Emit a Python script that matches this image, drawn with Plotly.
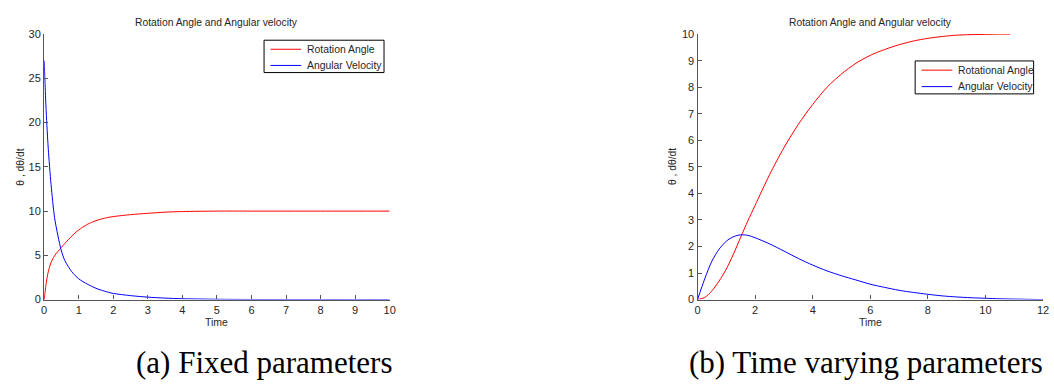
import plotly.graph_objects as go

# ---- (a) fixed parameters ----
t_fixed_angle = [0, 0.05, 0.1, 0.15, 0.2, 0.3, 0.4, 0.5, 0.6, 0.7, 0.8, 0.9, 1.0, 1.25, 1.5,
                 1.75, 2.0, 2.5, 3.0, 3.5, 4.0, 5.0, 6.0, 8.0, 10.0]
fixed_angle = [0, 1.6, 2.8, 3.6, 4.2, 4.95, 5.45, 5.9, 6.35, 6.78, 7.18, 7.55, 7.87, 8.5, 8.92,
               9.2, 9.38, 9.6, 9.75, 9.88, 9.95, 10.0, 10.0, 10.0, 10.0]

t_fixed_vel = [0, 0.02, 0.05, 0.08, 0.12, 0.2, 0.3, 0.4, 0.5, 0.6, 0.8, 1.0, 1.25, 1.5,
               1.75, 2.0, 2.5, 3.0, 3.5, 4.0, 5.0, 6.0, 8.0, 10.0]
fixed_vel = [27, 25, 22, 19.7, 17, 13, 9.3, 7.2, 5.5, 4.4, 3.15, 2.35, 1.75, 1.28,
             0.95, 0.7, 0.45, 0.28, 0.17, 0.1, 0.04, 0.015, 0.003, 0.0]

# ---- (b) time varying parameters ----
t_var_angle = [0, 0.25, 0.5, 0.75, 1.0, 1.25, 1.5, 1.75, 2.0, 2.5, 3.0, 3.5, 4.0, 4.5,
               5.0, 5.5, 6.0, 6.5, 7.0, 7.5, 8.0, 8.5, 9.0, 9.5, 10.0, 10.5, 10.86]
var_angle = [0, 0.08, 0.33, 0.7, 1.15, 1.72, 2.35, 2.97, 3.55, 4.7, 5.72, 6.6, 7.35, 8.0,
             8.5, 8.9, 9.2, 9.42, 9.6, 9.74, 9.84, 9.91, 9.96, 9.98, 9.99, 10.0, 10.0]

t_var_vel = [0, 0.25, 0.5, 0.75, 1.0, 1.25, 1.5, 1.75, 2.0, 2.5, 3.0, 3.5, 4.0, 4.5,
             5.0, 5.5, 6.0, 6.5, 7.0, 7.5, 8.0, 8.5, 9.0, 9.5, 10.0, 10.5, 11.0, 11.5, 12.0]
var_vel = [0, 0.78, 1.45, 1.9, 2.2, 2.37, 2.44, 2.42, 2.33, 2.1, 1.83, 1.55, 1.3, 1.08,
           0.9, 0.74, 0.58, 0.46, 0.35, 0.27, 0.2, 0.14, 0.1, 0.07, 0.05, 0.03, 0.02, 0.01, 0.0]

xticks_a = list(range(0, 11))
yticks_a = [0, 5, 10, 15, 20, 25, 30]
xticks_b = [0, 2, 4, 6, 8, 10, 12]
yticks_b = list(range(0, 11))

legend_a = ["Rotation Angle", "Angular Velocity"]
legend_b = ["Rotational Angle", "Angular Velocity"]

W, H = 1054, 387
RED = "#ff0000"
BLUE = "#0000ff"
AX = "#555555"
TXT = "#262626"
SANS = "Liberation Sans, Arial, sans-serif"
SERIF = "Liberation Serif, Times New Roman, serif"

fig = go.Figure()

line_style = dict(width=1, shape="spline", smoothing=0.8)
fig.add_trace(go.Scatter(x=t_fixed_angle, y=fixed_angle, mode="lines", name=legend_a[0],
                         line=dict(color=RED, **line_style), xaxis="x", yaxis="y"))
fig.add_trace(go.Scatter(x=t_fixed_vel, y=fixed_vel, mode="lines", name=legend_a[1],
                         line=dict(color=BLUE, **line_style), xaxis="x", yaxis="y"))
fig.add_trace(go.Scatter(x=t_var_angle, y=var_angle, mode="lines", name=legend_b[0],
                         line=dict(color=RED, **line_style), xaxis="x2", yaxis="y2"))
fig.add_trace(go.Scatter(x=t_var_vel, y=var_vel, mode="lines", name=legend_b[1],
                         line=dict(color=BLUE, **line_style), xaxis="x2", yaxis="y2"))


def px_x(p):
    return p / W


def px_y(p):
    return 1 - p / H


ydom = [px_y(303), px_y(29)]
xdom_a = [px_x(41.5), px_x(390)]
xdom_b = [px_x(700.5), px_x(1049)]

axis_common = dict(showgrid=False, zeroline=False, showline=True, linecolor=AX,
                   linewidth=1.3, ticks="inside", ticklen=4, tickcolor=AX,
                   tickfont=dict(family=SANS, size=11, color=TXT))

fig.update_layout(
    width=W, height=H,
    margin=dict(l=0, r=0, t=0, b=0),
    paper_bgcolor="white", plot_bgcolor="white",
    showlegend=False,
    xaxis=dict(domain=xdom_a, range=[0, 10], tickvals=xticks_a, anchor="y", **axis_common),
    yaxis=dict(domain=ydom, range=[0, 30], tickvals=yticks_a, anchor="x", **axis_common),
    xaxis2=dict(domain=xdom_b, range=[0, 12], tickvals=xticks_b, anchor="y2", **axis_common),
    yaxis2=dict(domain=ydom, range=[0, 10], tickvals=yticks_b, anchor="x2", **axis_common),
)

annotations = []
shapes = []

# boxed MATLAB-style legends: (box left, right, top, bottom), entry names
legend_boxes = [((263.3, 384.3, 35.3, 68.7), legend_a),
                ((920.0, 1039.5, 56.7, 90.7), legend_b)]
for (bl, br, bt, bb), names in legend_boxes:
    shapes.append(dict(type="rect", xref="paper", yref="paper",
                       x0=px_x(bl), x1=px_x(br), y0=px_y(bb), y1=px_y(bt),
                       line=dict(color="#000000", width=1), fillcolor="white", layer="above"))
    row_h = (bb - bt) / 2
    for i, (name, col) in enumerate(zip(names, [RED, BLUE])):
        ry = bt + row_h * (i + 0.5) + 1
        shapes.append(dict(type="line", xref="paper", yref="paper",
                           x0=px_x(bl + 6.5), x1=px_x(bl + 37.5), y0=px_y(ry), y1=px_y(ry),
                           line=dict(color=col, width=1), layer="above"))
        annotations.append(dict(x=px_x(bl + 41), y=px_y(ry), xref="paper", yref="paper",
                                text=name, showarrow=False,
                                font=dict(family=SANS, size=10.4, color=TXT),
                                xanchor="left", yanchor="middle"))

panels = [((41.5 + 390) / 2, 18, "(a) Fixed parameters", 264),
          ((700.5 + 1049) / 2, 676, "(b) Time varying parameters", 870)]
for cx, ylab_x, cap, cap_x in panels:
    annotations.append(dict(x=px_x(cx), y=px_y(17), xref="paper", yref="paper",
                            text="Rotation Angle and Angular velocity", showarrow=False,
                            font=dict(family=SANS, size=10.3, color=TXT),
                            xanchor="center", yanchor="middle"))
    annotations.append(dict(x=px_x(cx), y=px_y(326), xref="paper", yref="paper",
                            text="Time", showarrow=False,
                            font=dict(family=SANS, size=10.5, color=TXT),
                            xanchor="center", yanchor="middle"))
    annotations.append(dict(x=px_x(ylab_x), y=px_y(166), xref="paper", yref="paper",
                            text="θ , dθ/dt", showarrow=False, textangle=-90,
                            font=dict(family=SANS, size=10.3, color=TXT),
                            xanchor="center", yanchor="middle"))
    annotations.append(dict(x=px_x(cap_x), y=px_y(368), xref="paper", yref="paper",
                            text=cap, showarrow=False,
                            font=dict(family=SERIF, size=31, color="#000000"),
                            xanchor="center", yanchor="middle"))

fig.update_layout(annotations=annotations, shapes=shapes)

fig.write_html("out.html")
